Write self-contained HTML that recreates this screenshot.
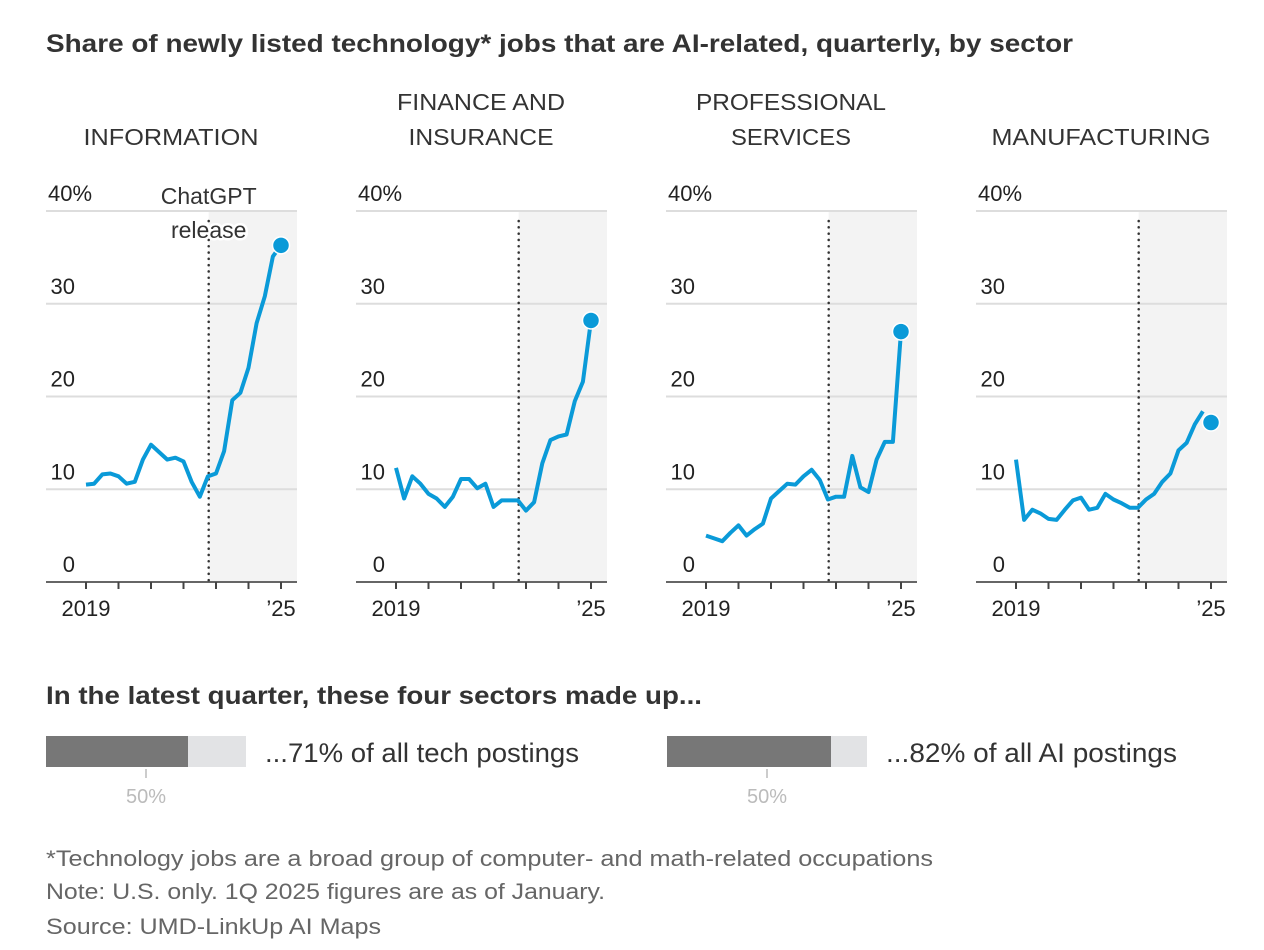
<!DOCTYPE html>
<html><head><meta charset="utf-8"><style>
html,body{margin:0;padding:0;background:#fff;}
svg{display:block;font-family:"Liberation Sans",sans-serif;}
</style></head><body>
<svg id="chart" width="1264" height="950" viewBox="0 0 1264 950">
<text x="46" y="52" font-size="25" font-weight="bold" fill="#333" textLength="1027" lengthAdjust="spacingAndGlyphs">Share of newly listed technology* jobs that are AI-related, quarterly, by sector</text>
<g id="panels"></g>
<text x="46" y="704" font-size="25" font-weight="bold" fill="#333" textLength="656" lengthAdjust="spacingAndGlyphs">In the latest quarter, these four sectors made up...</text>
<g id="bars"></g>
<text x="46" y="866" font-size="22" fill="#666" textLength="887" lengthAdjust="spacingAndGlyphs">*Technology jobs are a broad group of computer- and math-related occupations</text>
<text x="46" y="899" font-size="22" fill="#666" textLength="559" lengthAdjust="spacingAndGlyphs">Note: U.S. only. 1Q 2025 figures are as of January.</text>
<text x="46" y="934" font-size="22" fill="#666" textLength="335" lengthAdjust="spacingAndGlyphs">Source: UMD-LinkUp AI Maps</text>
</svg>
<script>
const sectors = ["INFORMATION", "FINANCE AND|INSURANCE", "PROFESSIONAL|SERVICES", "MANUFACTURING"];
const information = [10.5,10.6,11.6,11.7,11.4,10.6,10.8,13.2,14.8,14.0,13.2,13.4,13.0,10.8,9.2,11.4,11.7,14.1,19.6,20.4,23.1,27.9,30.8,35.1,36.3];
const finance = [12.3,9.0,11.4,10.6,9.5,9.0,8.1,9.2,11.1,11.1,10.1,10.6,8.1,8.8,8.8,8.8,7.7,8.6,12.8,15.3,15.7,15.9,19.5,21.6,28.2];
const professional = [5.0,4.7,4.4,5.3,6.1,5.0,5.7,6.3,9.0,9.8,10.6,10.5,11.4,12.1,11.0,8.9,9.2,9.2,13.6,10.2,9.7,13.2,15.1,15.1,27.0];
const manufacturing = [13.2,6.7,7.8,7.4,6.8,6.7,7.8,8.8,9.1,7.8,8.0,9.5,8.9,8.5,8.0,8.0,8.9,9.5,10.8,11.7,14.2,15.0,17.0,18.4,17.2];
const seriesList = [information, finance, professional, manufacturing];
const yTicks = [0,10,20,30,40];
const yearLabels = ["2019","","","","","","’25"];
const releaseIndex = 15.1;
const shareLabels = ["...71% of all tech postings","...82% of all AI postings"];
const shareValues = [71, 82];
const titleWidths = {"INFORMATION":175,"FINANCE AND":168,"INSURANCE":145,"PROFESSIONAL":190,"SERVICES":120,"MANUFACTURING":219};
const shareLabelWidths = [314, 291];

const NS = "http://www.w3.org/2000/svg";
function mk(tag, attrs, parent){const e=document.createElementNS(NS,tag);for(const k in attrs)e.setAttribute(k,attrs[k]);parent.appendChild(e);return e;}
const panels = document.getElementById("panels");
seriesList.forEach((vals, p) => {
  const off = p*310;
  const left = 46+off, right = 297+off;
  const x = i => 86 + off + i*(195/24);
  const y = v => 582 - v*9.275;
  const g = mk("g",{},panels);
  
  
  const lines = sectors[p].split("|");
  lines.forEach((t, li) => {
    const tx = mk("text",{x:left+125,y:145-(lines.length-1-li)*35,"font-size":23,fill:"#333","text-anchor":"middle",textLength:titleWidths[t],lengthAdjust:"spacingAndGlyphs"},g);
    tx.textContent = t;
    
    
  });
  const sh = mk("rect",{x:x(releaseIndex),y:y(40),width:right-x(releaseIndex),height:y(0)-y(40),fill:"#f3f3f3"},g);
  
  
  yTicks.forEach(t => {
    if (t>0){
      const gl = mk("line",{x1:left,x2:right,y1:y(t),y2:y(t),stroke:"#ddd","stroke-width":2},g);
      
      
    }
    const lb = mk("text",{x:t===40?48+off:75+off,y:y(t)-10,"font-size":22,fill:"#222","text-anchor":t===40?"start":"end"},g);
    lb.textContent = t===40 ? "40%" : String(t);
    
    
  });
  const base = mk("line",{x1:left,x2:right,y1:y(0),y2:y(0),stroke:"#666","stroke-width":2},g);
  
  
  yearLabels.forEach((lab, k) => {
    const xx = x(k*4);
    const tk = mk("line",{x1:xx,x2:xx,y1:y(0),y2:y(0)+7,stroke:"#444","stroke-width":2},g);
    
    
    if (lab){
      const tl = mk("text",{x:xx,y:616,"font-size":22,fill:"#222","text-anchor":"middle"},g);
      tl.textContent = lab;
      
      
    }
  });
  const rl = mk("line",{x1:x(releaseIndex),x2:x(releaseIndex),y1:y(40)+10,y2:y(0),stroke:"#333","stroke-width":2.5,"stroke-dasharray":"0.1 6.2","stroke-linecap":"round"},g);
  
  
  if (p===0){
    ["ChatGPT","release"].forEach((t,li)=>{
      const tt = mk("text",{x:x(releaseIndex),y:204+li*34,"font-size":23,fill:"#333","text-anchor":"middle",stroke:"#fff","stroke-width":5,"paint-order":"stroke"},g);
      tt.textContent = t;
      
      
    });
  }
  const n = p===3 ? vals.length-1 : vals.length;
  const d = vals.slice(0,n).map((v,i)=>(i?"L":"M")+x(i).toFixed(1)+","+y(v).toFixed(1)).join("");
  const path = mk("path",{d:d,fill:"none",stroke:"#0a9ad8","stroke-width":4,"stroke-linejoin":"round"},g);
  
  
  const last = vals.length-1;
  const dot = mk("circle",{cx:x(last),cy:y(vals[last]),r:8.5,fill:"#0a9ad8",stroke:"#fff","stroke-width":1.5},g);
  
  
});

const bars = document.getElementById("bars");
shareValues.forEach((v,k)=>{
  const bx = 46 + k*621, bw = 200;
  const bg = mk("rect",{x:bx,y:736,width:bw,height:31,fill:"#e2e3e5"},bars);
  
  
  const fg = mk("rect",{x:bx,y:736,width:bw*v/100,height:31,fill:"#777"},bars);
  
  
  const tk = mk("line",{x1:bx+bw/2,x2:bx+bw/2,y1:769,y2:778,stroke:"#bbb","stroke-width":1.5},bars);
  
  
  const tl = mk("text",{x:bx+bw/2,y:803,"font-size":20,fill:"#bbb","text-anchor":"middle"},bars);
  tl.textContent = "50%";
  
  
  const lb = mk("text",{x:bx+bw+19,y:762,"font-size":27,fill:"#333",textLength:shareLabelWidths[k],lengthAdjust:"spacingAndGlyphs"},bars);
  lb.textContent = shareLabels[k];
  
  
});
</script>
</body></html>
